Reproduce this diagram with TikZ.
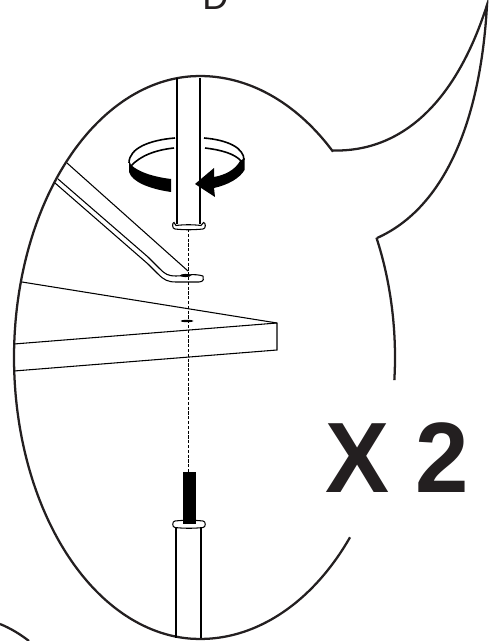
\documentclass[tikz,border=0pt]{standalone}
\usepackage{fontspec}
\setmainfont{Liberation Sans}
\definecolor{inkdark}{HTML}{231F20}
\begin{document}
\begin{tikzpicture}[x=0.75pt,y=-0.75pt,
  outline/.style={draw=inkdark,line width=1.7pt},
  thinline/.style={draw=black,line width=0.8pt},
  ringline/.style={draw=black,line width=1.2pt},
  flange/.style={draw=black,line width=0.8pt,fill=white},
  solidblack/.style={fill=black,draw=none}]
  \path[use as bounding box,clip] (0,0) rectangle (493,641);
  % label and count
  \node[font=\fontsize{27}{27}\selectfont,text=inkdark,anchor=base west,inner sep=0pt] (letter) at (202,10) {D};
  \node[font=\fontsize{75}{75}\selectfont\bfseries,text=inkdark,anchor=base west,inner sep=0pt,xscale=0.96] (count) at (325,492) {X 2};
  % magnifier outline
  \draw[outline,smooth] plot[domain=-47:-90,samples=20] ({200+195*cos(\x)},{357.5+281.5*sin(\x)})
    -- plot[domain=-90:-270,samples=60] ({200+186*cos(\x)},{357.5+281.5*sin(\x)})
    -- plot[domain=90:39.7,samples=20] ({200+195*cos(\x)},{357.5+281.5*sin(\x)});
  \draw[outline] plot[smooth,domain=-25.2:4.6,samples=15] ({200+195*cos(\x)},{357.5+281.5*sin(\x)});
  \draw[outline] (333,150.5) .. controls (400,152) and (455,105) .. (487,5) .. controls (480,130) and (440,210) .. (377,238);
  \draw[outline] (0,624) .. controls (10,628) and (20,634) .. (29,641);
  % table
  \draw[thinline] (22,282) -- (277,323) -- (277,350) -- (14,371);
  \draw[thinline] (277,323) -- (14,344);
  \fill[black] (187,321) ellipse (6.5 and 1.2);
  % arm
  \draw[thinline] (67,163) -- (188,271);
  \draw[thinline] (58,179) -- (148,257) -- (160,269) .. controls (165,274) and (168,276) .. (176,276) .. controls (185,276) and (193,273) .. (203,276);
  \draw[thinline] (55,183) -- (148,264) -- (158,274) .. controls (164,280) and (168,282) .. (176,282) -- (199,282) .. controls (204,282) and (204,278) .. (203,276);
  \fill[black] (185.5,275.5) ellipse (5.5 and 1.6);
  % dashed axis
  \draw[black,line width=0.6pt,dash pattern=on 2.4pt off 1.2pt] (188.5,229) -- (188.5,472);
  % upper tube
  \draw[thinline] (177,78) -- (177,224);
  \draw[thinline] (200,78) -- (200,224);
  \draw[flange] (174,222.5) -- (176,225.5) .. controls (184,224.5) and (193,224.5) .. (201,225.5) -- (203.5,222.5) .. controls (206,222.5) and (206,229) .. (203,229) .. controls (193,230) and (184,230) .. (175,229) .. controls (172,229) and (172,222.5) .. (174,222.5) -- cycle;
  % rotation arrow
  \draw[ringline] (175,138) .. controls (150,140) and (129,148) .. (129,163);
  \draw[ringline] (174,148) .. controls (155,150) and (140,156) .. (131,166);
  \draw[ringline] (204,138) .. controls (228,140) and (244,148) .. (244,160);
  \draw[ringline] (205,148) .. controls (222,150) and (235,154) .. (241,161);
  \path[solidblack] (129,160) -- (129,172) .. controls (132,182) and (150,189) .. (171,192) -- (171,179) .. controls (155,177) and (140,173) .. (131,165) -- cycle;
  \path[solidblack] (244.5,158) -- (244.5,170) .. controls (240,178) and (228,185) .. (214,188) -- (215,197) -- (195,184) -- (214,168) -- (214,177) .. controls (225,175) and (235,170) .. (240,161) -- cycle;
  % lower tube and bolt
  \draw[thinline] (176,527) -- (176,638);
  \draw[thinline] (201,527) -- (201,638);
  \draw[flange] (175,521) .. controls (184,520) and (194,520) .. (203,521) .. controls (206,521) and (206,527.5) .. (203,527.5) .. controls (194,528.5) and (184,528.5) .. (175,527.5) .. controls (172,527.5) and (172,521) .. (175,521) -- cycle;
  \fill[black] (183,471.5) rectangle (196,524);
\end{tikzpicture}
\end{document}
